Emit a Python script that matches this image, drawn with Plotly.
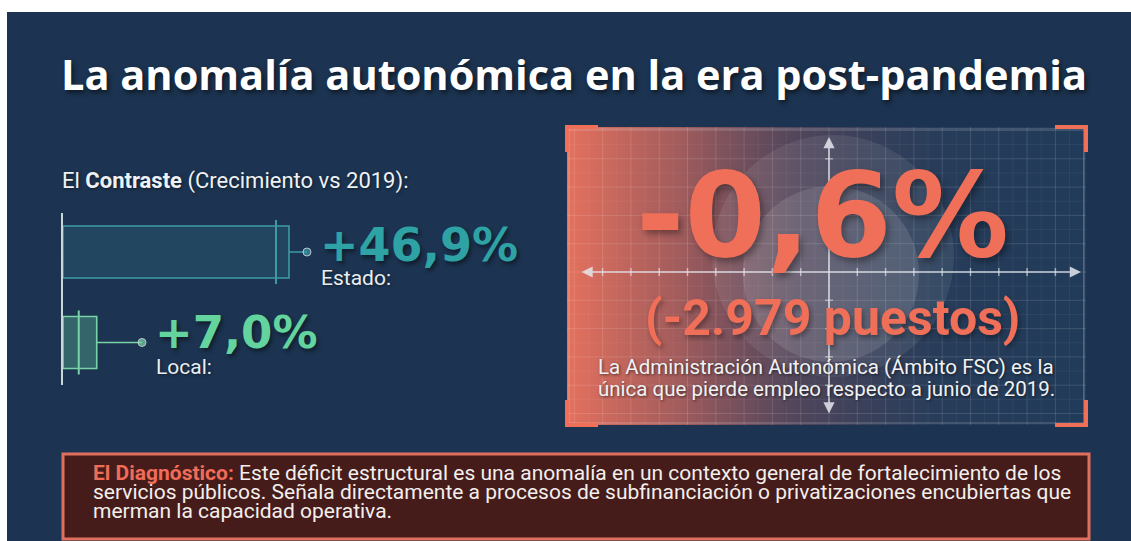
import plotly.graph_objects as go

W, H = 1131, 541

# ---------------- data ----------------
title_text = "La anomalía autonómica en la era post-pandemia"
contrast_heading = "El <b>Contraste</b> (Crecimiento vs 2019):"
categories = ["Estado", "Local"]
growth_vs_2019 = [46.9, 7.0]
bar_fill = ["rgba(70,160,175,0.16)", "rgba(110,215,170,0.30)"]
bar_line = ["#3d9aa6", "#78d3a6"]
label_color = ["#2ea2a4", "#64d49e"]

auto_change_pct = -0.6
auto_change_jobs = -2979
auto_note = [
    "La Administración Autonómica (Ámbito FSC) es la",
    "única que pierde empleo respecto a junio de 2019.",
]
diag_lead = "El Diagnóstico:"
diag_lines = [
    " Este déficit estructural es una anomalía en un contexto general de fortalecimiento de los",
    "servicios públicos. Señala directamente a procesos de subfinanciación o privatizaciones encubiertas que",
    "merman la capacidad operativa.",
]

NAVY = "#1c3451"
CORAL = "#ef6f58"


def X(px):
    return px / W


def Y(py):
    return 1 - py / H


def fmt_pct(v):
    return f"{v:+.1f}".replace(".", ",") + "%"


fig = go.Figure()

# ---------------- left: bar comparison ----------------
AX0 = 63            # pixel of value 0
PXU = (289 - 63) / 46.9   # pixels per percentage point
XMAX = 52
positions = list(range(len(categories)))[::-1]
BAR_W = 0.575

fig.add_trace(go.Bar(
    x=growth_vs_2019, y=positions, orientation="h", width=BAR_W,
    marker=dict(color=bar_fill, line=dict(color=bar_line, width=1.6)),
    hoverinfo="skip", showlegend=False, xaxis="x", yaxis="y",
))

label_left = [322, 157]
label_cy = [245, 332]
name_cy = [278, 367]

shapes = []
annotations = []

for i, (cat, v) in enumerate(zip(categories, growth_vs_2019)):
    dot_px = label_left[i] - 15
    dot_x = (dot_px - AX0) / PXU
    fig.add_trace(go.Scatter(
        x=[v, dot_x], y=[positions[i], positions[i]], mode="lines+markers",
        line=dict(color=bar_line[i], width=1.6),
        marker=dict(size=[0, 8], color=bar_line[i]),
        hoverinfo="skip", showlegend=False, xaxis="x", yaxis="y",
    ))
    off = 13 if i == 0 else 18
    shapes.append(dict(
        type="line", xref="x", yref="y", xsizemode="pixel", ysizemode="pixel",
        xanchor=v, yanchor=positions[i], x0=-off, x1=-off, y0=-32, y1=32,
        line=dict(color=bar_line[i], width=2),
    ))
    annotations.append(dict(
        xref="paper", yref="paper", x=X(label_left[i] - 4), y=Y(label_cy[i]),
        xanchor="left", yanchor="middle", showarrow=False,
        text=fmt_pct(v),
        font=dict(family="DejaVu Sans", size=46 if i == 0 else 45, color=label_color[i],
                  weight="bold", shadow="2px 3px 4px rgba(0,0,0,0.45)"),
    ))
    annotations.append(dict(
        xref="paper", yref="paper", x=X(label_left[i] - 3), y=Y(name_cy[i]),
        xanchor="left", yanchor="middle", showarrow=False,
        text=cat + ":",
        font=dict(family="Roboto", size=21, color="#e9eef2",
                  shadow="1px 1px 3px rgba(0,0,0,0.5)"),
    ))

annotations.append(dict(
    xref="paper", yref="paper", x=X(60), y=Y(181), xanchor="left", yanchor="middle",
    showarrow=False, text=contrast_heading,
    font=dict(family="Roboto", size=22, color="#eef2f5", shadow="1px 1px 3px rgba(0,0,0,0.5)"),
))

# ---------------- right panel ----------------
PX0, PX1, PY0, PY1 = 567, 1086, 127, 425
CX, CY = 829, 272
GRID = 28.3
EXT = 8

fig.add_trace(go.Scatter(
    x=[PX0, PX1, PX1, PX0, PX0], y=[PY0, PY0, PY1, PY1, PY0],
    xaxis="x2", yaxis="y2", mode="lines", line=dict(width=0),
    fill="toself",
    fillgradient=dict(type="horizontal", colorscale=[
        [0.0, "rgba(240,116,94,0.95)"],
        [0.22, "rgba(205,105,96,0.75)"],
        [0.45, "rgba(135,88,102,0.48)"],
        [0.72, "rgba(62,78,108,0.32)"],
        [1.0, "rgba(42,74,108,0.32)"],
    ]),
    hoverinfo="skip", showlegend=False,
))

# soft circles
shapes.append(dict(type="circle", xref="x2", yref="y2", x0=833 - 121, x1=833 + 121,
                   y0=256 - 121, y1=256 + 121, line=dict(width=0),
                   fillcolor="rgba(255,255,255,0.08)", layer="above"))
shapes.append(dict(type="circle", xref="x2", yref="y2", x0=831 - 88, x1=831 + 88,
                   y0=274 - 88, y1=274 + 88, line=dict(width=0),
                   fillcolor="rgba(255,255,255,0.11)", layer="above"))

# grid
k = -30
while k <= 30:
    gx = CX + k * GRID / 2
    if PX0 < gx < PX1:
        alpha = 0.13 if k % 2 == 0 else 0.05
        shapes.append(dict(type="line", xref="x2", yref="y2", x0=gx, x1=gx, y0=PY0, y1=PY1,
                           line=dict(color=f"rgba(255,255,255,{alpha})", width=1), layer="above"))
    gy = CY + k * GRID / 2
    if PY0 < gy < PY1:
        alpha = 0.13 if k % 2 == 0 else 0.05
        shapes.append(dict(type="line", xref="x2", yref="y2", x0=PX0, x1=PX1, y0=gy, y1=gy,
                           line=dict(color=f"rgba(255,255,255,{alpha})", width=1), layer="above"))
    k += 1

# axis ticks
k = -12
while k <= 12:
    tx = CX + k * GRID
    if k != 0 and PX0 + 15 < tx < PX1 - 15:
        shapes.append(dict(type="line", xref="x2", yref="y2", x0=tx, x1=tx, y0=CY - 4, y1=CY + 4,
                           line=dict(color="rgba(235,238,242,0.6)", width=1.5), layer="above"))
    ty = CY + k * GRID
    if k != 0 and PY0 + 15 < ty < PY1 - 15:
        shapes.append(dict(type="line", xref="x2", yref="y2", x0=CX - 4, x1=CX + 4, y0=ty, y1=ty,
                           line=dict(color="rgba(235,238,242,0.5)", width=1.5), layer="above"))
    k += 1

# thin frame
shapes.append(dict(type="rect", xref="x2", yref="y2", x0=PX0 + 2, x1=PX1 - 2, y0=PY0 + 2, y1=PY1 - 2,
                   line=dict(color="rgba(255,255,255,0.28)", width=1), layer="above"))
# corner brackets
L = 31
for (cx, cy, sx, sy) in [(PX0, PY0, 1, 1), (PX1, PY0, -1, 1), (PX0, PY1, 1, -1), (PX1, PY1, -1, -1)]:
    shapes.append(dict(
        type="path", xref="x2", yref="y2",
        path=f"M {cx} {cy + sy * (L - 6)} L {cx} {cy} L {cx + sx * L} {cy}",
        line=dict(color=CORAL, width=4), layer="above",
    ))

# axes arrows
annotations.append(dict(xref="x2", yref="y2", axref="x2", ayref="y2",
                        x=PX1 - 5, y=CY, ax=PX0 + 13, ay=CY, text="", showarrow=True,
                        arrowhead=2, arrowside="end+start", arrowsize=1.4, arrowwidth=1.6,
                        arrowcolor="rgba(228,232,238,0.85)"))
annotations.append(dict(xref="x2", yref="y2", axref="x2", ayref="y2",
                        x=CX, y=PY0 + 10, ax=CX, ay=PY1 - 10, text="", showarrow=True,
                        arrowhead=2, arrowside="end+start", arrowsize=1.4, arrowwidth=1.6,
                        arrowcolor="rgba(228,232,238,0.85)"))

annotations.append(dict(
    xref="paper", yref="paper", x=X(822), y=Y(216), xanchor="center", yanchor="middle",
    showarrow=False, text=fmt_pct(auto_change_pct),
    font=dict(family="DejaVu Sans", size=117, color=CORAL, weight="bold",
              shadow="3px 4px 6px rgba(0,0,0,0.35)"),
))
annotations.append(dict(
    xref="paper", yref="paper", x=X(832), y=Y(318), xanchor="center", yanchor="middle",
    showarrow=False, text=f"({auto_change_jobs:,} puestos)".replace(",", "."),
    font=dict(family="Roboto", size=50, color=CORAL, weight="bold",
              shadow="2px 3px 5px rgba(0,0,0,0.35)"),
))
for j, line in enumerate(auto_note):
    annotations.append(dict(
        xref="paper", yref="paper", x=X(826), y=Y(367 + j * 22), xanchor="center", yanchor="middle",
        showarrow=False, text=line,
        font=dict(family="Roboto", size=20.5, color="#f1f2f4", shadow="1px 1px 3px rgba(0,0,0,0.6)"),
    ))

# ---------------- title ----------------
annotations.append(dict(
    xref="paper", yref="paper", x=X(574), y=Y(74), xanchor="center", yanchor="middle",
    showarrow=False, text=title_text,
    font=dict(family="Open Sans", size=41.5, color="#ffffff", weight="bold",
              shadow="2px 3px 5px rgba(0,0,0,0.55)"),
))

# ---------------- diagnostic box ----------------
shapes.append(dict(type="rect", xref="paper", yref="paper", x0=X(63), x1=X(1089), y0=Y(539), y1=Y(454),
                   fillcolor="#461c1b", line=dict(color="#e0705d", width=3), layer="above"))
for j, line in enumerate(diag_lines):
    txt = line
    if j == 0:
        txt = f"<span style='color:#ef6d58'><b>{diag_lead}</b></span>" + line
    annotations.append(dict(
        xref="paper", yref="paper", x=X(91), y=Y(473 + j * 19), xanchor="left", yanchor="middle",
        showarrow=False, text=txt,
        font=dict(family="Roboto", size=21, color="#f3efec"),
    ))

# background (white strips top/left as in the reference)
shapes.insert(0, dict(type="rect", xref="paper", yref="paper", x0=X(7), x1=1, y0=0, y1=Y(12),
                      fillcolor=NAVY, line=dict(width=0), layer="below"))

fig.update_layout(
    width=W, height=H, autosize=False,
    margin=dict(l=0, r=0, t=0, b=0, pad=0),
    paper_bgcolor="#ffffff", plot_bgcolor="rgba(0,0,0,0)",
    showlegend=False,
    xaxis=dict(domain=[X(AX0), X(AX0 + XMAX * PXU)], range=[0, XMAX], visible=False, fixedrange=True),
    yaxis=dict(domain=[Y(385), Y(213)], range=[-0.47, 1.431], showline=True, linecolor="#c9d7da",
               linewidth=2, showticklabels=False, showgrid=False, zeroline=False, ticks="",
               fixedrange=True),
    xaxis2=dict(domain=[X(PX0 - EXT), X(PX1 + EXT)], range=[PX0 - EXT, PX1 + EXT], visible=False,
                anchor="y2", fixedrange=True),
    yaxis2=dict(domain=[Y(PY1 + EXT), Y(PY0 - EXT)], range=[PY1 + EXT, PY0 - EXT], visible=False,
                anchor="x2", fixedrange=True),
    shapes=shapes,
    annotations=annotations,
)

fig.write_html(
    "out.html",
    config=dict(displayModeBar=False, staticPlot=True),
    post_script="document.body.style.margin='0';document.body.style.overflow='hidden';",
)
